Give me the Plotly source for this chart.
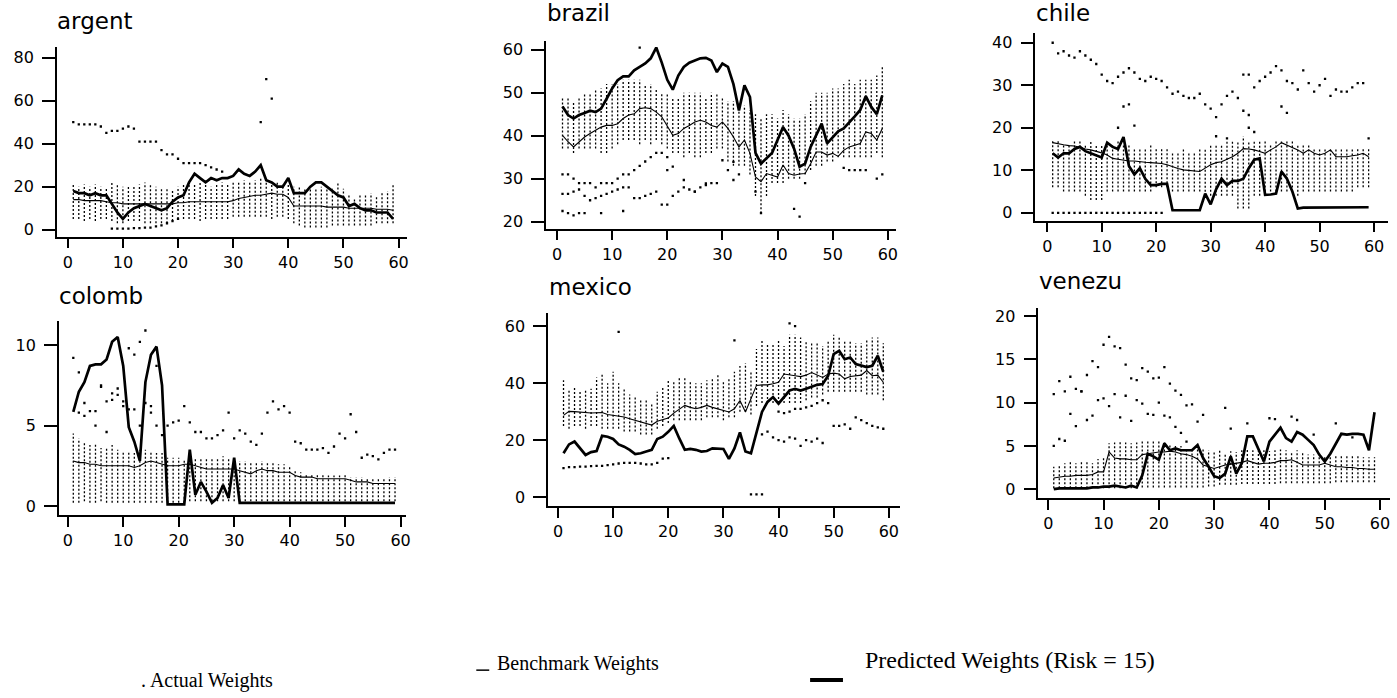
import plotly.graph_objects as go

W, H = 1397, 698
months = list(range(1, 60))
x_ticks = [0, 10, 20, 30, 40, 50, 60]

# ---------------- argent ----------------
argent_pred = [18, 17, 17, 16, 17, 16, 16, 12, 8, 5, 8, 10, 11, 12, 11, 10, 9, 10, 13, 15,
               16, 22, 26, 24, 22, 24, 23, 24, 24, 25, 28, 26, 25, 27, 30, 23, 22, 20, 20, 24,
               17, 17, 17, 20, 22, 22, 20, 18, 16, 15, 11, 12, 10, 9, 9, 8, 8, 8, 5]
argent_bench = [14, 14, 13.5, 13.5, 13.5, 13.5, 13, 12.5, 12.5, 12, 12, 12, 12, 12, 12, 12, 12, 12, 12, 12.5,
                12.5, 13, 13, 13, 13, 13, 13, 13, 13, 13.5, 14.5, 15, 15.5, 16, 16, 16.5, 17, 16.5, 16.5, 15,
                11, 11, 11, 11, 11, 11, 10.5, 10.5, 10.5, 10.5, 10, 10, 10, 10, 10, 9.5, 9.5, 9.5, 9]
argent_lo = [5, 5, 4, 5, 4, 5, 5, 4, 3, 3, 4, 4, 4, 3, 3, 3, 3, 3, 4, 5,
             5, 5, 5, 4, 5, 5, 5, 5, 5, 6, 6, 6, 6, 6, 6, 6, 5, 6, 6, 5,
             3, 2, 1, 1, 1, 1, 1, 2, 2, 2, 2, 2, 2, 2, 2, 3, 3, 3, 3]
argent_hi = [21, 20, 21, 20, 21, 20, 19, 22, 21, 20, 20, 20, 21, 22, 21, 20, 19, 19, 18, 20,
             21, 22, 21, 22, 21, 20, 21, 22, 21, 22, 22, 23, 22, 23, 24, 23, 22, 22, 21, 21,
             20, 20, 19, 20, 19, 20, 20, 19, 22, 19, 16, 15, 16, 16, 17, 16, 17, 18, 21]
argent_out_x = list(range(1, 29)) + [35, 36, 37] + list(range(8, 21))
argent_out_y = [50, 49, 49, 49, 49, 48, 45, 46, 46, 47, 48, 47, 41, 41, 41, 41, 37, 35, 35, 33,
                31, 31, 31, 31, 30, 29, 28, 27,
                50, 70, 61,
                0.5, 0.5, 0.5, 0.5, 0.7, 0.7, 1, 1, 1.5, 2, 3, 4, 5]

# ---------------- brazil ----------------
brazil_pred = [46.8, 44.8, 44, 44.8, 45.3, 45.8, 45.5, 46.3, 48.6, 51, 52.9, 53.8, 53.8, 55.2, 56, 56.8, 58, 60.5, 57, 53,
               50.7, 54, 56, 57, 57.5, 58, 58.1, 57.5, 54.8, 56.8, 56, 52, 45.9, 51.7, 49, 36, 33.5, 34.7, 36, 39,
               42, 40, 37, 32.8, 33.5, 37.4, 40, 42.8, 38.2, 39.5, 41, 41.7, 43, 44.5, 46, 49.2, 46.7, 45, 49.4]
brazil_bench = [40.1, 38.6, 37.4, 38.6, 39.7, 40.5, 41.3, 42, 42.4, 42.4, 42.8, 44, 44.8, 45.1, 46.3, 46.5, 46.3, 45.5, 44.4, 42.4,
                40.1, 40.5, 41.7, 42.4, 43.2, 43.6, 43.2, 42.4, 42, 43.2, 41.7, 39.7, 37.4, 39, 35.9, 30.4, 29.3, 31.2, 30.8, 30.4,
                33.2, 31.2, 30.8, 31.1, 31.2, 33.5, 36.2, 36.2, 35.5, 35.9, 35.2, 36.6, 37.4, 37.8, 38.2, 40.9, 40.5, 39, 41.7]
brazil_lo = [37, 37, 36, 37, 37, 37, 37, 36, 36, 37, 38, 39, 39, 39, 38, 39, 38, 39, 38, 37,
             36, 36, 35, 36, 35, 35, 36, 36, 37, 37, 34, 33, 33, 33, 31, 26, 22, 26, 29, 29,
             29, 30, 30, 30, 31, 32, 33, 33, 34, 34, 35, 35, 35, 35, 35, 35, 35, 36, 35]
brazil_hi = [49, 49, 48, 49, 50, 50, 51, 51, 52, 52, 52, 53, 53, 53, 53, 52, 52, 51, 50, 50,
             49, 49, 50, 50, 50, 50, 49, 50, 50, 49, 48, 48, 47, 47, 46, 45, 44, 45, 45, 44,
             46, 45, 44, 44, 45, 48, 50, 50, 50, 51, 51, 52, 53, 52, 53, 53, 53, 54, 56]
brazil_out_x = (list(range(1, 21)) + list(range(1, 30)) + [1, 2, 3, 4, 5, 8, 12]
                + [15, 31, 32, 33, 36, 37, 43, 44, 45]
                + [20, 21, 23, 25, 27, 30, 32] + [52, 53, 54, 55, 56, 58, 59])
brazil_out_y = ([31, 31, 30, 29, 29, 29, 28, 29, 29, 29, 30, 31, 31, 32, 33, 34, 35, 36, 36, 35]
                + [26.5, 26.5, 27, 27.5, 26, 25, 25.5, 26, 26.5, 27, 27.5, 28, 28, 25.5, 25.5, 26, 26.5, 27, 24, 24,
                   26, 27, 28, 27.5, 27, 28, 28.5, 29, 29]
                + [22.5, 22, 21.5, 22, 22, 22, 22.5]
                + [60.5, 32, 29.7, 31, 27, 22, 23, 21.2, 29]
                + [32, 32.8, 29.7, 27, 28.9, 34.3, 33.9]
                + [32.5, 32, 32, 32, 32, 30, 31])

# ---------------- chile ----------------
chile_pred = [14, 13, 14, 14, 15, 15.5, 14.5, 14, 13.5, 13, 16.5, 15.5, 15, 17.8, 11, 9, 10.5, 8, 6.5, 6.5,
              6.8, 6.8, 0.6, 0.6, 0.6, 0.6, 0.6, 0.6, 4.5, 2, 5.5, 8, 6.5, 7.5, 7.5, 8, 10.5, 12.5, 12.8, 4.2,
              4.3, 4.5, 9.7, 8, 5, 1, 1.2, 1.2, 1.2, 1.2, 1.2, 1.2, 1.2, 1.2, 1.3, 1.3, 1.3, 1.3, 1.3]
chile_bench = [16.5, 16.2, 16, 15.8, 15.7, 15.4, 15, 14.8, 14.5, 14.1, 13.6, 12.8, 12.6, 12.4, 12.2, 12.2, 12, 11.9, 11.8, 11.7,
               11.6, 11.3, 10.8, 10.4, 10.1, 10, 9.8, 9.7, 10.5, 11.3, 11.8, 12, 12.6, 13.2, 14, 15.1, 15, 14.8, 14.4, 14,
               14.8, 15.5, 16.5, 15.9, 15.3, 14.8, 14, 14.8, 14, 13.6, 14, 14.8, 13.2, 13.2, 13.2, 13.4, 13.6, 14, 13.2]
chile_lo = [6, 6, 5, 5, 5, 5, 4, 3, 3, 3, 5, 5, 5, 5, 5, 5, 5, 5, 5, 6,
            6, 6, 5, 5, 5, 5, 5, 5, 4, 4, 4, 4, 4, 4, 1, 1, 1, 4, 4, 5,
            5, 5, 5, 5, 5, 4, 5, 5, 5, 5, 5, 5, 5, 5, 5, 5, 6, 6, 6]
chile_hi = [17, 17, 16, 16, 17, 17, 16, 17, 16, 16, 16, 16, 17, 16, 16, 15, 15, 15, 16, 15,
            15, 15, 14, 14, 15, 14, 14, 15, 15, 16, 16, 16, 17, 17, 17, 18, 17, 17, 17, 17,
            16, 17, 17, 17, 17, 16, 16, 16, 15, 15, 15, 15, 15, 15, 15, 15, 15, 15, 15]
chile_out_x = (list(range(1, 59)) + list(range(1, 22))
               + [13, 14, 15, 16, 36, 37, 43, 44, 37, 38, 31, 33, 59])
chile_out_y = ([40, 37.5, 38, 37, 36.5, 38, 37, 36, 35, 32.5, 31, 30.5, 32, 33, 34, 33, 31.5, 31, 32, 31.5,
                31, 29.5, 28, 28.5, 27.5, 27, 27, 28, 25.5, 24.5, 22.5, 25.5, 27.5, 28.5, 27, 32.5, 32.5, 29.5, 31, 32,
                33, 34.5, 33.5, 31, 30.5, 29, 33.5, 30.5, 28.5, 30, 31.5, 27.5, 29, 28.5, 28.5, 29.5, 30.5, 30.5]
               + [0, 0, 0, 0, 0, 0, 0, 0, 0, 0, 0, 0, 0, 0, 0, 0, 0, 0, 0, 0, 0]
               + [20, 25, 25.5, 20.5, 24, 23, 25, 23.5, 20, 19, 18, 17.5, 17.5])

# ---------------- colomb ----------------
colomb_pred = [5.85, 7.1, 7.7, 8.7, 8.8, 8.8, 9.1, 10.2, 10.5, 8.7, 4.9, 4.0, 2.8, 7.7, 9.4, 9.9, 7.5, 0.1, 0.1, 0.1,
               0.1, 3.5, 0.7, 1.5, 0.9, 0.2, 0.5, 1.3, 0.5, 3.0, 0.2, 0.2, 0.2, 0.2, 0.2, 0.2, 0.2, 0.2, 0.2, 0.2,
               0.2, 0.2, 0.2, 0.2, 0.2, 0.2, 0.2, 0.2, 0.2, 0.2, 0.2, 0.2, 0.2, 0.2, 0.2, 0.2, 0.2, 0.2, 0.2]
colomb_bench = [2.8, 2.7, 2.7, 2.6, 2.6, 2.5, 2.5, 2.5, 2.5, 2.5, 2.5, 2.4, 2.5, 2.7, 2.8, 2.7, 2.6, 2.5, 2.5, 2.5,
                2.6, 2.6, 2.5, 2.4, 2.3, 2.3, 2.3, 2.3, 2.3, 2.3, 2.2, 2.1, 2.0, 2.2, 2.3, 2.2, 2.2, 2.1, 2.1, 2.1,
                1.9, 1.8, 1.8, 1.8, 1.7, 1.7, 1.7, 1.7, 1.7, 1.7, 1.6, 1.5, 1.5, 1.5, 1.4, 1.4, 1.4, 1.4, 1.4]
colomb_lo = [0.2, 0.2, 0.3, 0.2, 0.2, 0.3, 0.2, 0.2, 0.2, 0.2, 0.2, 0.2, 0.2, 0.2, 0.2, 0.2, 0.2, 0.2, 0.2, 0.2,
             0.2, 0.3, 0.3, 0.3, 0.3, 0.3, 0.3, 0.3, 0.3, 0.3, 0.3, 0.3, 0.3, 0.3, 0.3, 0.3, 0.3, 0.3, 0.3, 0.3,
             0.3, 0.3, 0.3, 0.3, 0.3, 0.3, 0.3, 0.3, 0.3, 0.3, 0.3, 0.3, 0.3, 0.3, 0.3, 0.3, 0.3, 0.3, 0.3]
colomb_hi = [4.5, 4.2, 4.0, 3.8, 3.9, 3.6, 3.6, 3.8, 3.5, 3.4, 3.4, 3.3, 3.5, 3.5, 3.4, 3.3, 3.3, 3.0, 3.0, 3.0,
             2.9, 3.1, 3.0, 3.0, 2.9, 2.9, 3.0, 3.1, 3.0, 2.9, 2.8, 2.8, 2.7, 2.7, 2.8, 2.7, 2.7, 2.6, 2.6, 2.5,
             2.2, 2.1, 2.0, 2.0, 2.0, 2.0, 1.9, 1.9, 1.9, 2.0, 1.8, 1.8, 1.8, 1.7, 1.7, 1.7, 1.7, 1.8, 1.8]
colomb_out_x = ([1, 2, 3, 5, 6, 7, 8, 9, 10, 11, 12, 13, 14, 15, 16]
                + list(range(18, 60))
                + [2, 3, 4, 5, 6, 7, 8, 9, 10, 11, 12, 13, 14, 15, 16, 17])
colomb_out_y = ([9.2, 8.3, 6.4, 5.9, 7.4, 6.5, 7, 7.3, 6.5, 9.8, 9.4, 10.2, 10.9, 6.2, 8.7]
                + [5, 5.2, 5.3, 6.2, 5.2, 4.6, 4.6, 4.2, 4.2, 4.4, 4.7, 5.8, 4.2, 4.7, 4.5, 4.0, 3.8, 4.5, 5.8, 6.5,
                   6.0, 6.2, 5.8, 4, 3.9, 3.5, 3.5, 3.5, 3.6, 3.3, 3.7, 4.5, 4.2, 5.7, 4.6, 3.0, 3.2, 3.1, 2.9, 3.3,
                   3.5, 3.5]
                + [5.8, 5.6, 5.9, 5, 7.5, 4.6, 6.6, 6.9, 6.2, 6.0, 6.0, 5.0, 6.4, 5.8, 5.0, 4.4])

# ---------------- mexico ----------------
mexico_pred = [15.4, 18.5, 19.5, 17.1, 14.8, 15.8, 16.2, 21.5, 21.2, 20.4, 18.5, 17.7, 16.6, 15.1, 15.4, 16, 16.6, 20.4, 21.2, 22.9,
               25, 20.6, 16.6, 16.9, 16.6, 16, 16.2, 17.1, 17.1, 16.9, 13.4, 17.1, 22.7, 16, 15.4, 22.9, 29.9, 33.4, 35.1, 32.8,
               35.1, 37.4, 38, 37.4, 38, 38.6, 39.4, 39.7, 42.6, 50.2, 51.3, 48.4, 49, 46.7, 46.1, 45.6, 46.1, 49.6, 44]
mexico_bench = [28.7, 30.1, 30, 29.8, 29.7, 29.5, 29.6, 29.7, 29, 28.7, 28.5, 28.1, 27.5, 27, 26.5, 25.8, 25.3, 26.6, 27.2, 27.8,
                29.5, 31, 32.2, 31.5, 31, 31.5, 32.2, 31.5, 31, 30.5, 29.9, 31, 33.9, 29.9, 34.5, 39.2, 39.4, 39.4, 39.8, 40.3,
                43.2, 43, 42.6, 42.3, 42.8, 43.7, 42.8, 42, 43.2, 43.5, 43.2, 41.5, 42.3, 42.6, 42.8, 44.4, 42.6, 42.8, 40.3]
mexico_lo = [25, 24, 25, 25, 24, 25, 25, 24, 24, 24, 24, 23, 23, 23, 22, 22, 22, 24, 25, 26,
             27, 27, 27, 27, 27, 27, 28, 28, 28, 27, 28, 28, 30, 30, 29, 32, 33, 33, 33, 33,
             33, 33, 33, 33, 34, 35, 35, 36, 37, 37, 37, 37, 37, 37, 37, 36, 36, 36, 34]
mexico_hi = [41, 38, 39, 37, 38, 38, 42, 43, 40, 44, 40, 38, 36, 35, 34, 34, 33, 37, 39, 41,
             41, 42, 42, 41, 40, 40, 41, 42, 43, 41, 42, 44, 46, 47, 44, 52, 55, 54, 54, 55,
             53, 57, 57, 56, 55, 54, 54, 53, 55, 57, 56, 55, 55, 54, 54, 55, 56, 56, 54]
mexico_out_x = (list(range(1, 21)) + list(range(37, 49)) + list(range(50, 60))
                + [35, 36, 37, 11, 32, 42, 43] + list(range(40, 50)))
mexico_out_y = ([10.2, 10.5, 10.5, 10.7, 10.7, 10.9, 11, 11, 11.2, 11.5, 11.8, 12, 12, 12, 11.8, 11.5, 11.5, 12, 13.5, 13.7]
                + [22, 23, 21, 20, 19.5, 21, 20.5, 18, 20, 19.5, 20.5, 19]
                + [25, 25, 25.5, 24, 28, 27, 26, 25, 24.5, 24]
                + [1, 1, 1, 58, 55, 61, 60]
                + [30, 29.5, 30, 31, 31, 31.5, 32, 33, 34, 33])

# ---------------- venezu ----------------
venezu_pred = [0, 0.1, 0.1, 0.1, 0.1, 0.1, 0.1, 0.2, 0.2, 0.3, 0.3, 0.4, 0.3, 0.2, 0.4, 0.2, 1.6, 4.1, 3.8, 3.4,
               5.3, 4.5, 4.7, 4.5, 4.5, 4.5, 5.1, 3.6, 2.6, 1.5, 1.3, 1.8, 3.8, 1.8, 3.0, 6.1, 6.1, 4.7, 3.2, 5.5,
               6.3, 7.1, 5.9, 5.5, 6.6, 6.3, 5.7, 5.1, 4.0, 3.2, 4.1, 5.3, 6.4, 6.3, 6.4, 6.4, 6.3, 4.5, 8.9]
venezu_bench = [1.3, 1.4, 1.5, 1.5, 1.6, 1.6, 1.6, 1.7, 2.0, 2.0, 4.3, 3.6, 3.5, 3.5, 3.4, 3.4, 4.0, 4.1, 4.2, 4.3,
                4.3, 4.4, 4.3, 4.1, 4.0, 3.8, 3.5, 2.8, 2.6, 2.4, 2.6, 2.8, 2.9, 3.0, 3.1, 3.3, 3.1, 2.9, 3.0, 3.0,
                3.1, 3.3, 3.3, 3.4, 3.1, 2.8, 2.8, 2.8, 2.8, 3.0, 2.8, 2.6, 2.6, 2.5, 2.5, 2.4, 2.4, 2.3, 2.3]
venezu_lo = [0.1, 0.1, 0.1, 0.1, 0.1, 0.1, 0.1, 0.1, 0.1, 0.1, 0.1, 0.1, 0.1, 0.1, 0.1, 0.1, 0.2, 0.2, 0.2, 0.2,
             0.2, 0.2, 0.2, 0.2, 0.2, 0.2, 0.2, 0.2, 0.3, 0.3, 0.5, 0.5, 0.5, 0.5, 0.6, 0.6, 0.6, 0.6, 0.6, 0.6,
             0.6, 0.7, 0.7, 0.7, 0.7, 0.7, 0.7, 0.7, 0.7, 0.7, 0.7, 0.8, 0.8, 0.8, 0.8, 0.8, 0.8, 0.8, 0.8]
venezu_hi = [2.6, 2.8, 3.0, 3.2, 3.0, 3.2, 3.3, 3.0, 3.5, 3.8, 5.3, 5.4, 5.5, 5.4, 5.3, 5.4, 5.5, 5.5, 5.6, 5.5,
             5.4, 5.2, 5.0, 5.0, 4.8, 4.8, 5.0, 4.8, 4.5, 4.4, 4.5, 4.2, 4.4, 4.3, 4.5, 4.6, 4.5, 4.4, 4.5, 4.4,
             4.5, 4.6, 4.5, 4.4, 4.5, 4.3, 4.0, 4.0, 3.9, 3.9, 3.8, 3.8, 3.8, 3.8, 3.8, 3.8, 3.7, 3.7, 3.7]
venezu_out_x = (list(range(1, 29)) + list(range(1, 26))
                + [32, 33, 36, 40, 41, 44, 45, 48, 52, 55])
venezu_out_y = ([11, 12.5, 11.3, 13, 11.6, 11.3, 13.2, 14.8, 14.1, 16.7, 17.6, 16.5, 16.3, 14.4, 12.8, 12.6, 14, 13.6, 12.8, 12.9,
                 14.1, 12.2, 11.4, 10.9, 9.7, 9.8, 7.8, 8.6]
                + [5, 5.8, 5.6, 8.7, 7.3, 11.3, 8, 8.5, 10.3, 10.5, 9.6, 11, 8.3, 10.8, 7.9, 10.3, 9.9, 8.7, 8.6, 10,
                   8.5, 8.3, 7.2, 6.5, 5.5]
                + [9.4, 7, 7.6, 8.2, 8.1, 8.4, 8, 6.3, 7.6, 6])

countries = ["argent", "brazil", "chile", "colomb", "mexico", "venezu"]
y_ticks = {
    "argent": [0, 20, 40, 60, 80],
    "brazil": [20, 30, 40, 50, 60],
    "chile": [0, 10, 20, 30, 40],
    "colomb": [0, 5, 10],
    "mexico": [0, 20, 40, 60],
    "venezu": [0, 5, 10, 15, 20],
}
data = {
    "argent": (argent_pred, argent_bench, argent_lo, argent_hi, argent_out_x, argent_out_y),
    "brazil": (brazil_pred, brazil_bench, brazil_lo, brazil_hi, brazil_out_x, brazil_out_y),
    "chile": (chile_pred, chile_bench, chile_lo, chile_hi, chile_out_x, chile_out_y),
    "colomb": (colomb_pred, colomb_bench, colomb_lo, colomb_hi, colomb_out_x, colomb_out_y),
    "mexico": (mexico_pred, mexico_bench, mexico_lo, mexico_hi, mexico_out_x, mexico_out_y),
    "venezu": (venezu_pred, venezu_bench, venezu_lo, venezu_hi, venezu_out_x, venezu_out_y),
}

# Layout geometry in pixels: x pixel of month 0 and 60, two y calibration points,
# plot box (left, right, top, bottom), title position
geom = {
    "argent": dict(x0=68, x60=400, ya=(0, 230), yb=(80, 57), box=(57, 408, 46, 237), title=(55, 20)),
    "brazil": dict(x0=559, x60=891, ya=(20, 222), yb=(60, 49), box=(548, 899, 40, 229), title=(547, 12)),
    "chile": dict(x0=1051, x60=1379, ya=(0, 213), yb=(40, 42), box=(1039, 1393, 32, 221), title=(1038, 12)),
    "colomb": dict(x0=68, x60=402, ya=(0, 508), yb=(10, 346), box=(59, 407, 322, 517), title=(57, 297)),
    "mexico": dict(x0=560, x60=892, ya=(0, 499), yb=(60, 327), box=(550, 903, 314, 508), title=(549, 288)),
    "venezu": dict(x0=1052, x60=1385, ya=(0, 491), yb=(20, 317), box=(1042, 1395, 309, 500), title=(1041, 282)),
}


def lin(p, pa, va, pb, vb):
    return va + (p - pa) * (vb - va) / (pb - pa)


fig = go.Figure()
annotations = []
tick_font = dict(family="DejaVu Sans", size=16, color="black")

for k, c in enumerate(countries, start=1):
    pred, bench, lo, hi, ox, oy = data[c]
    assert len(pred) == 59 and len(bench) == 59 and len(lo) == 59 and len(hi) == 59, c
    assert len(ox) == len(oy), c
    g = geom[c]
    xs = "x" if k == 1 else f"x{k}"
    ys = "y" if k == 1 else f"y{k}"

    bx, by = [], []
    for m, a, b in zip(months, lo, hi):
        bx += [m, m, None]
        by += [a, b, None]
    fig.add_trace(go.Scatter(x=bx, y=by, mode="lines", xaxis=xs, yaxis=ys,
                             line=dict(color="black", width=1.3, dash="2px,2px"),
                             showlegend=False, hoverinfo="skip"))
    fig.add_trace(go.Scatter(x=ox, y=oy, mode="markers", xaxis=xs, yaxis=ys,
                             marker=dict(color="black", size=2.3, symbol="square"),
                             showlegend=False))
    fig.add_trace(go.Scatter(x=months, y=bench, mode="lines", xaxis=xs, yaxis=ys,
                             line=dict(color="black", width=1.1), showlegend=False))
    fig.add_trace(go.Scatter(x=months, y=pred, mode="lines", xaxis=xs, yaxis=ys,
                             line=dict(color="black", width=2.7), showlegend=False))

    left, right, top, bottom = g["box"]
    xr = [lin(left, g["x0"], 0, g["x60"], 60), lin(right, g["x0"], 0, g["x60"], 60)]
    (va, pa), (vb, pb) = g["ya"], g["yb"]
    yr = [lin(bottom, pa, va, pb, vb), lin(top, pa, va, pb, vb)]
    axis_common = dict(showline=True, linecolor="black", linewidth=1.5, ticks="outside",
                       tickwidth=1.5, tickcolor="black", showgrid=False,
                       zeroline=False, tickfont=tick_font)
    fig.update_layout(**{
        ("xaxis" if k == 1 else f"xaxis{k}"): dict(
            domain=[left / W, right / W], range=xr, tickvals=x_ticks, ticklen=10,
            anchor=ys, **axis_common),
        ("yaxis" if k == 1 else f"yaxis{k}"): dict(
            domain=[1 - bottom / H, 1 - top / H], range=yr, tickvals=y_ticks[c], ticklen=13,
            ticklabelstandoff=5, anchor=xs, **axis_common),
    })
    tx, ty = g["title"]
    annotations.append(dict(text=c, x=tx / W, y=1 - ty / H, xref="paper", yref="paper",
                            xanchor="left", yanchor="middle", showarrow=False,
                            font=dict(family="DejaVu Sans", size=23, color="black")))

serif = "Liberation Serif"
annotations += [
    dict(text=". Actual Weights", x=140 / W, y=1 - 683 / H, xref="paper", yref="paper",
         xanchor="left", yanchor="middle", showarrow=False,
         font=dict(family=serif, size=20, color="black")),
    dict(text="Benchmark Weights", x=497 / W, y=1 - 666 / H, xref="paper", yref="paper",
         xanchor="left", yanchor="middle", showarrow=False,
         font=dict(family=serif, size=20, color="black")),
    dict(text="Predicted Weights (Risk = 15)", x=866 / W, y=1 - 663 / H, xref="paper", yref="paper",
         xanchor="left", yanchor="middle", showarrow=False,
         font=dict(family=serif, size=24, color="black")),
]
shapes = [
    dict(type="line", xref="paper", yref="paper", x0=478 / W, x1=491 / W,
         y0=1 - 673 / H, y1=1 - 673 / H, line=dict(color="black", width=1.5)),
    dict(type="line", xref="paper", yref="paper", x0=813 / W, x1=846 / W,
         y0=1 - 683 / H, y1=1 - 683 / H, line=dict(color="black", width=4)),
]

fig.update_layout(width=W, height=H, margin=dict(l=0, r=0, t=0, b=0),
                  paper_bgcolor="white", plot_bgcolor="white",
                  annotations=annotations, shapes=shapes, showlegend=False)

fig.write_html("out.html")
